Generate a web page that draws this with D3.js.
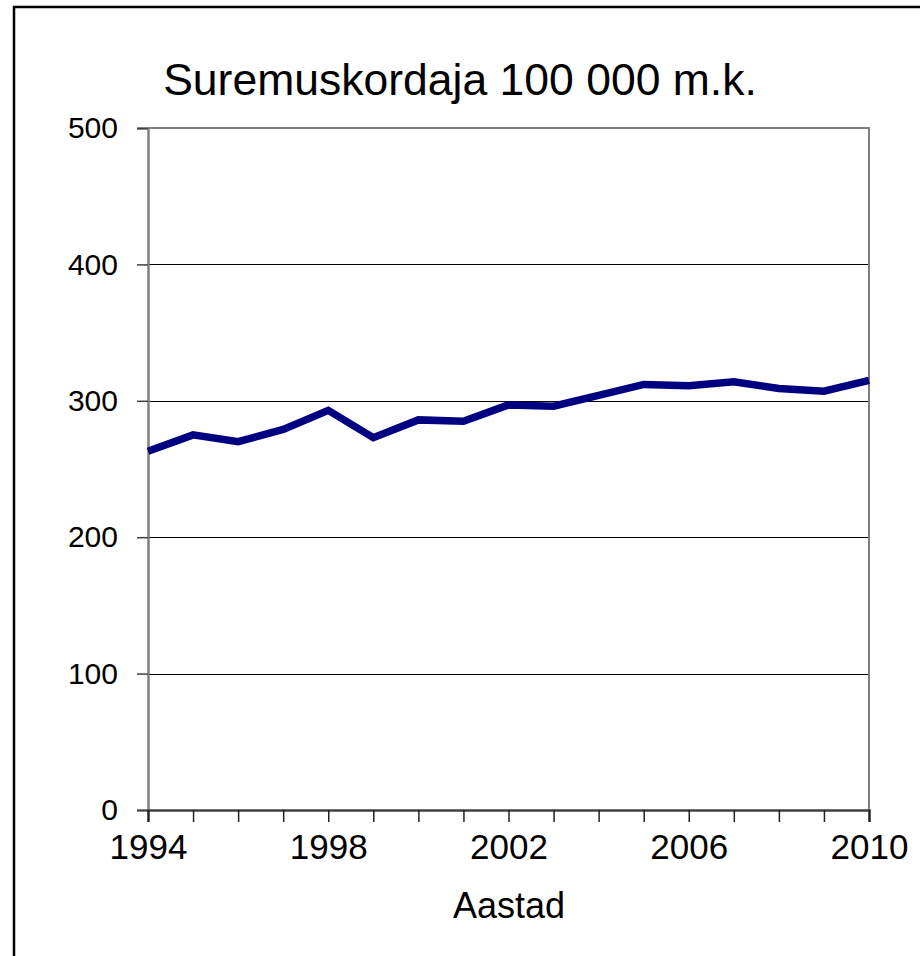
<!DOCTYPE html>
<html><head><meta charset="utf-8">
<script src="https://cdn.jsdelivr.net/npm/d3@7"></script>
<style>body{margin:0;background:#fff}svg{display:block}text{font-family:"Liberation Sans",Arial,sans-serif;fill:#000}</style>
</head><body>
<svg id="c" width="920" height="956"></svg>
<script>
const years = [1994,1995,1996,1997,1998,1999,2000,2001,2002,2003,2004,2005,2006,2007,2008,2009,2010];
const values = [263,275,270,279,293,273,286,285,297,296,304,312,311,314,309,307,315];
const yTicks = [0,100,200,300,400,500];
const xTickLabels = [1994,1998,2002,2006,2010];
const title = "Suremuskordaja 100 000 m.k.";
const xTitle = "Aastad";

const svg = d3.select("#c");
const L = 148, R = 869, T = 128, B = 810;
const x = d3.scaleLinear().domain([1994,2010]).range([L,R]);
const y = d3.scaleLinear().domain([0,500]).range([B,T]);

// outer border (left & top)
svg.append("path").attr("d","M14,956V7H920").attr("fill","none").attr("stroke","#000").attr("stroke-width",2.5);

// title
svg.append("text").attr("x",460).attr("y",95).attr("text-anchor","middle")
  .attr("font-size",44.5).text(title);

// gridlines
svg.append("g").selectAll("line").data(yTicks.filter(d=>d>0&&d<500)).join("line")
  .attr("x1",L).attr("x2",R).attr("y1",d=>Math.round(y(d))+0.5).attr("y2",d=>Math.round(y(d))+0.5)
  .attr("stroke","#000").attr("stroke-width",1);

// plot frame top & right (gray)
svg.append("path").attr("d",`M${L},${T}H${R}V${B}`).attr("fill","none").attr("stroke","#808080").attr("stroke-width",2);

// y axis
const yAxis = d3.axisLeft(y).tickValues(yTicks).tickSize(11).tickPadding(19).tickFormat(d3.format("d"));
const gy = svg.append("g").attr("transform",`translate(${L},0)`).call(yAxis);
gy.select(".domain").attr("stroke","#808080").attr("stroke-width",2.5);
gy.selectAll(".tick line").attr("stroke","#404040").attr("stroke-width",1.5);
gy.selectAll(".tick text").attr("font-size",30).attr("font-family",'"Liberation Sans",Arial,sans-serif').attr("fill","#000");

// x axis
const xAxis = d3.axisBottom(x).tickValues(years).tickSize(12).tickPadding(12)
  .tickFormat(d=>xTickLabels.includes(d)?String(d):"");
const gx = svg.append("g").attr("transform",`translate(0,${B})`).call(xAxis);
gx.select(".domain").attr("stroke","#404040").attr("stroke-width",2.5);
gx.selectAll(".tick line").attr("stroke","#202020").attr("stroke-width",1.5);
gx.selectAll(".tick text").attr("font-size",35).attr("font-family",'"Liberation Sans",Arial,sans-serif').attr("fill","#000");

// x title
svg.append("text").attr("x",509).attr("y",918).attr("text-anchor","middle").attr("font-size",36).text(xTitle);

// line
const line = d3.line().x((d,i)=>x(years[i])).y(d=>y(d));
svg.append("path").datum(values).attr("d",line).attr("fill","none")
  .attr("stroke","#000080").attr("stroke-width",7.5).attr("stroke-linejoin","miter");
</script>
</body></html>
